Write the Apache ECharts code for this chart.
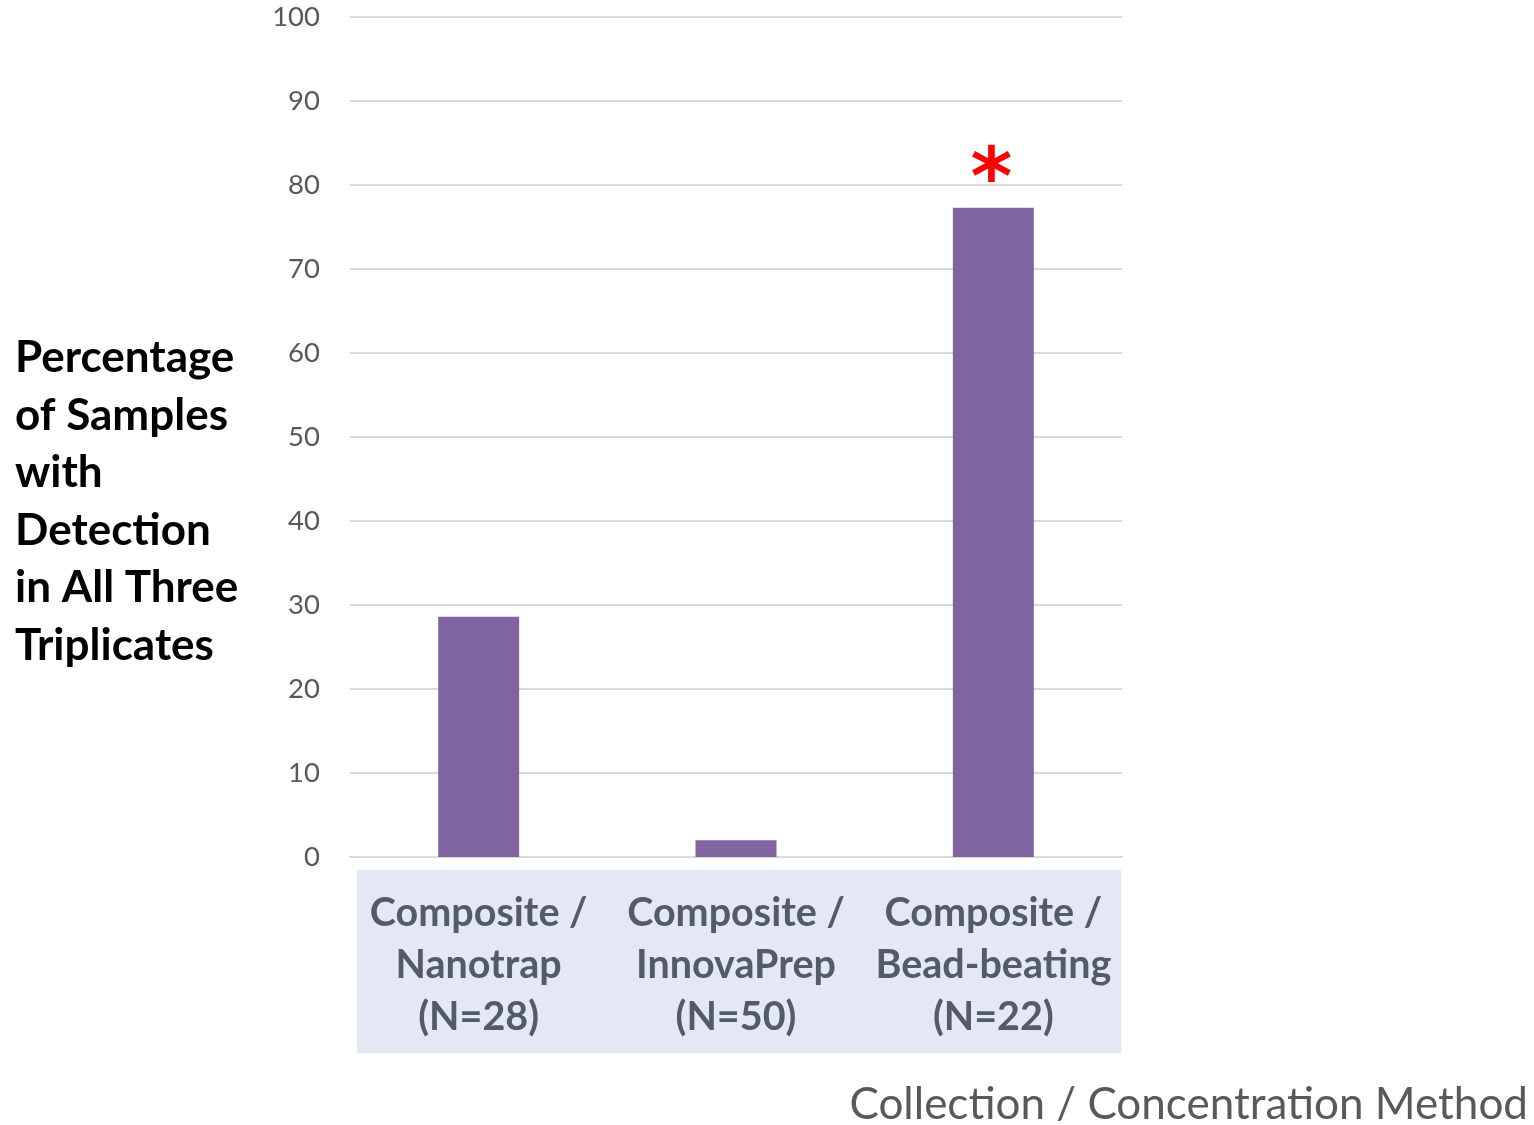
<!DOCTYPE html>
<html><head><meta charset="utf-8">
<script src="https://cdn.jsdelivr.net/npm/echarts@6/dist/echarts.min.js"></script>
<style>html,body{margin:0;padding:0;background:#fff}#c{width:1534px;height:1125px}</style>
</head><body><div id="c"></div>
<script>
const categories = ['Composite /\nNanotrap\n(N=28)', 'Composite /\nInnovaPrep\n(N=50)', 'Composite /\nBead-beating\n(N=22)'];
const values = [28.6, 2.0, 77.3];
const significant = [false, false, true];
const yTitle = 'Percentage\nof Samples\nwith\nDetection\nin All Three\nTriplicates';
const xTitle = 'Collection / Concentration Method';
const FONT = 'Lato';

const chart = echarts.init(document.getElementById('c'), null, {renderer: 'canvas'});
chart.setOption({
  animation: false,
  backgroundColor: '#fff',
  title: [
    {text: yTitle, left: 10, top: 324, textStyle: {fontFamily: FONT, fontWeight: 'bold', fontSize: 44, lineHeight: 57.6, color: '#000'}},
    {text: xTitle, right: 1, top: 1078, textStyle: {fontFamily: FONT, fontWeight: 'normal', fontSize: 44, color: '#595959'}}
  ],
  graphic: [{type: 'rect', z: -10, silent: true, shape: {x: 357, y: 870, width: 764, height: 183}, style: {fill: '#e3e8f4'}}],
  grid: {left: 350, right: 412, top: 17, bottom: 268, containLabel: false},
  xAxis: {
    type: 'category', data: categories,
    axisLine: {lineStyle: {color: '#d9d9d9', width: 2}},
    axisTick: {show: false},
    axisLabel: {fontFamily: FONT, fontWeight: 'bold', fontSize: 39.5, lineHeight: 52, color: '#555b66', margin: 30, interval: 0}
  },
  yAxis: {
    type: 'value', min: 0, max: 100, interval: 10,
    axisLine: {show: false}, axisTick: {show: false},
    splitLine: {lineStyle: {color: '#d9d9d9', width: 2}},
    axisLabel: {fontFamily: FONT, fontSize: 27.5, color: '#595959', margin: 30}
  },
  series: [{
    type: 'bar', barWidth: 81,
    itemStyle: {color: '#8064a2'},
    data: values.map((v, i) => ({
      value: v,
      label: significant[i] ? {show: true, position: 'top', formatter: '*', color: '#ff0000', fontSize: 80, fontWeight: 'bold', fontFamily: 'DejaVu Sans', distance: -16, offset: [-2, 0]} : {show: false}
    }))
  }]
});
</script></body></html>
